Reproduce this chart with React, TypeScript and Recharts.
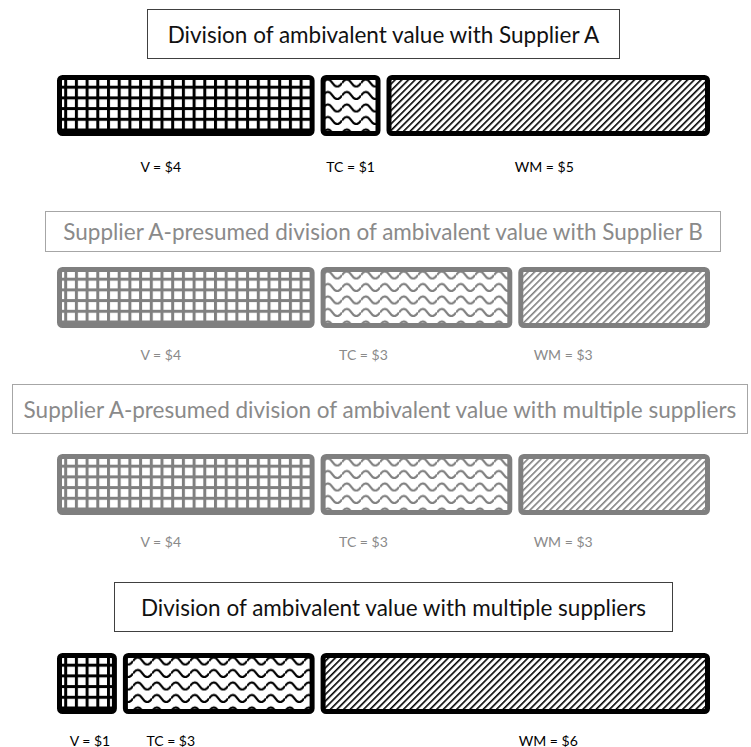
import React from 'react';
import { BarChart, Bar, XAxis, YAxis } from 'recharts';

// ---------- data ----------
const categories = ['V', 'TC', 'WM'];
const titles = [
  'Division of ambivalent value with Supplier A',
  'Supplier A-presumed division of ambivalent value with Supplier B',
  'Supplier A-presumed division of ambivalent value with multiple suppliers',
  'Division of ambivalent value with multiple suppliers',
];
const supplierAValues = [4, 1, 5];
const presumedSupplierBValues = [4, 3, 3];
const presumedMultipleValues = [4, 3, 3];
const multipleSuppliersValues = [1, 3, 6];
const rowValues = [supplierAValues, presumedSupplierBValues, presumedMultipleValues, multipleSuppliersValues];

// ---------- layout / style ----------
const W = 751;
const H = 747;
const PLOT_LEFT = 54;
const PLOT_RIGHT = 713;
const FONT = 'Lato, "Open Sans", sans-serif';

const TONES: Record<string, { line: string; border: string; text: string; box: string }> = {
  dark: { line: '#000000', border: '#000000', text: '#000000', box: '#404040' },
  light: { line: '#808080', border: '#7f7f7f', text: '#8a8a8a', box: '#a6a6a6' },
};
const PATTERNS = ['grid', 'wave', 'diag'];

const rows = [
  { tone: 'dark', barTop: 75, barH: 61, labelGap: 30, labelShift: [-25, 0, -4],
    box: { left: 147, top: 9, width: 473, height: 50 } },
  { tone: 'light', barTop: 267, barH: 61, labelGap: 26, labelShift: [-25, -53, -51],
    box: { left: 45, top: 211, width: 676, height: 41 } },
  { tone: 'light', barTop: 454, barH: 61, labelGap: 26, labelShift: [-25, -53, -51],
    box: { left: 12, top: 384, width: 736, height: 50 } },
  { tone: 'dark', barTop: 653, barH: 61, labelGap: 26, labelShift: [3, -48, 33],
    box: { left: 114, top: 582, width: 559, height: 50 } },
];

const STROKE = 5;
const GAP = 3;

function Patterns() {
  return (
    <svg width={0} height={0} style={{ position: 'absolute', left: 0, top: 0 }}>
      <defs>
        {Object.keys(TONES).map((t) => {
          const c = TONES[t].line;
          return (
            <React.Fragment key={t}>
              <pattern id={`grid-${t}`} patternUnits="userSpaceOnUse" width={10.7} height={10.7}>
                <rect width={10.7} height={10.7} fill="#fff" />
                <rect x={0} y={0} width={3} height={10.7} fill={c} />
                <rect x={0} y={0} width={10.7} height={3} fill={c} />
              </pattern>
              <pattern id={`wave-${t}`} patternUnits="userSpaceOnUse" width={19} height={12.5}>
                <rect width={19} height={12.5} fill="#fff" />
                <path d="M0 8 Q4.75 0.8 9.5 8 T19 8" stroke={c} strokeWidth={2.2} fill="none" />
              </pattern>
              <pattern id={`diag-${t}`} patternUnits="userSpaceOnUse" width={4.7} height={10} patternTransform="rotate(45)">
                <rect width={4.7} height={10} fill="#fff" />
                <rect x={0} y={0} width={1.6} height={10} fill={c} />
              </pattern>
            </React.Fragment>
          );
        })}
      </defs>
    </svg>
  );
}

const makeShape = (rowIdx: number, catIdx: number) => (props: any) => {
  const { x, y, width, height } = props;
  const row = rows[rowIdx];
  const tone = TONES[row.tone];
  const value = rowValues[rowIdx][catIdx];
  const rx = x + GAP + STROKE / 2;
  const rw = Math.max(0, width - 2 * GAP - STROKE);
  return (
    <g>
      <rect
        x={rx}
        y={y + STROKE / 2}
        width={rw}
        height={Math.max(0, height - STROKE)}
        rx={3}
        ry={3}
        fill={`url(#${PATTERNS[catIdx]}-${row.tone})`}
        stroke={tone.border}
        strokeWidth={STROKE}
      />
      <text
        x={x + width / 2 + row.labelShift[catIdx]}
        y={y + height + row.labelGap}
        textAnchor="middle"
        dominantBaseline="central"
        fontFamily={FONT}
        fontSize={14}
        fill={tone.text}
      >
        {`${categories[catIdx]} = $${value}`}
      </text>
    </g>
  );
};

function Row({ idx }: { idx: number }) {
  const row = rows[idx];
  const values = rowValues[idx];
  const datum: Record<string, any> = { name: titles[idx] };
  categories.forEach((c, i) => (datum[c] = values[i]));
  const data = [datum];
  const tone = TONES[row.tone];
  return (
    <>
      <div
        style={{
          position: 'absolute',
          left: row.box.left,
          top: row.box.top,
          width: row.box.width,
          height: row.box.height,
          boxSizing: 'border-box',
          border: `1.5px solid ${tone.box}`,
          display: 'flex',
          alignItems: 'center',
          justifyContent: 'center',
          fontFamily: FONT,
          fontSize: 22.5,
          color: row.tone === 'dark' ? '#111' : '#8a8a8a',
          whiteSpace: 'nowrap',
          background: '#fff',
        }}
      >
        {titles[idx]}
      </div>
      <div style={{ position: 'absolute', left: 0, top: row.barTop }}>
        <BarChart
          width={W}
          height={row.barH + 45}
          data={data}
          layout="vertical"
          margin={{ top: 0, bottom: 45, left: PLOT_LEFT, right: W - PLOT_RIGHT }}
          barCategoryGap={0}
          style={{ overflow: 'visible' }}
        >
          <XAxis type="number" domain={[0, 'dataMax']} hide />
          <YAxis type="category" dataKey="name" hide />
          {categories.map((c, i) => (
            <Bar
              key={c}
              dataKey={c}
              stackId="row"
              isAnimationActive={false}
              shape={makeShape(idx, i)}
            />
          ))}
        </BarChart>
      </div>
    </>
  );
}

export default function App() {
  return (
    <div style={{ position: 'absolute', left: 0, top: 0, width: W, height: H, background: '#fff', overflow: 'hidden' }}>
      <Patterns />
      {rows.map((_, i) => (
        <Row key={i} idx={i} />
      ))}
    </div>
  );
}
